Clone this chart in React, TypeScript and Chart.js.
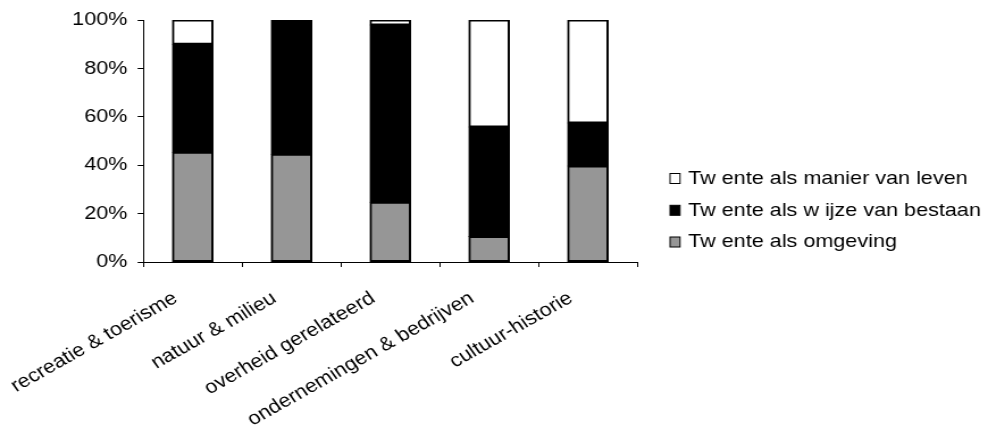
import React, { useEffect, useRef } from "react";
import { Chart, registerables } from "chart.js";

Chart.register(...registerables);

const categories = [
  "recreatie & toerisme",
  "natuur & milieu",
  "overheid gerelateerd",
  "ondernemingen & bedrijven",
  "cultuur-historie",
];
const omgeving = [45.3, 44.5, 24.7, 10.5, 39.7];
const bestaan = [44.7, 55.5, 73.2, 45.3, 17.7];
const leven = [10, 0, 2.1, 44.2, 42.6];
const seriesNames = [
  "Tw ente als omgeving",
  "Tw ente als w ijze van bestaan",
  "Tw ente als manier van leven",
];
const yTicks = [0, 20, 40, 60, 80, 100];

const CANVAS_W = 870;
const CANVAS_H = 431;
const FONT = "'Liberation Sans', Arial, sans-serif";

const legendPlugin = {
  id: "customLegend",
  afterDraw(chart: any) {
    const ctx = chart.ctx;
    const ds = chart.data.datasets;
    const rows = [178.5, 210.3, 242];
    ctx.save();
    ctx.font = `19px ${FONT}`;
    ctx.textBaseline = "middle";
    ctx.textAlign = "left";
    for (let i = 0; i < ds.length; i++) {
      const d = ds[ds.length - 1 - i];
      const y = rows[i];
      ctx.fillStyle = d.backgroundColor;
      ctx.fillRect(590, y - 5, 8.8, 10);
      ctx.strokeStyle = "#000";
      ctx.lineWidth = 1;
      ctx.strokeRect(590, y - 5, 8.8, 10);
      ctx.fillStyle = "#000";
      ctx.fillText(d.label, 606, y);
    }
    ctx.restore();
  },
};

export default function App() {
  const ref = useRef<HTMLCanvasElement | null>(null);
  useEffect(() => {
    if (!ref.current) return;
    const common = {
      borderColor: "#000",
      borderWidth: 2,
      borderSkipped: false,
      inflateAmount: 0.5,
      barPercentage: 0.41,
      categoryPercentage: 1,
    };
    const chart = new Chart(ref.current, {
      type: "bar",
      data: {
        labels: categories,
        datasets: [
          { label: seriesNames[0], data: omgeving, backgroundColor: "#969696", ...common },
          { label: seriesNames[1], data: bestaan, backgroundColor: "#000000", ...common },
          { label: seriesNames[2], data: leven, backgroundColor: "#ffffff", ...common },
        ] as any,
      },
      options: {
        responsive: false,
        animation: false,
        devicePixelRatio: 1,
        layout: { padding: { top: 20, right: CANVAS_W - 561.2, bottom: 0, left: 0 } },
        plugins: {
          legend: { display: false },
          tooltip: { enabled: false },
        },
        scales: {
          x: {
            stacked: true,
            grid: {
              display: true,
              drawOnChartArea: false,
              drawTicks: true,
              tickLength: 5,
              color: "#000",
              offset: true,
            },
            border: { display: true, color: "#000", width: 1 },
            ticks: {
              color: "#000",
              font: { family: FONT, size: 19 },
              minRotation: 32.5,
              maxRotation: 32.5,
              padding: 20,
              labelOffset: -15,
              autoSkip: false,
            },
            afterFit(scale: any) {
              scale.height = CANVAS_H - 262;
              scale.paddingLeft = 0;
              scale.paddingRight = 0;
            },
          },
          y: {
            stacked: true,
            min: 0,
            max: 100,
            grid: {
              display: true,
              drawOnChartArea: false,
              drawTicks: true,
              tickLength: 5,
              color: "#000",
            },
            border: { display: true, color: "#000", width: 1 },
            ticks: {
              color: "#000",
              font: { family: FONT, size: 19 },
              stepSize: 20,
              padding: 9,
              callback: (v: any) => (yTicks.includes(Number(v)) ? `${v}%` : ""),
            },
            afterFit(scale: any) {
              scale.width = 126.2;
              scale.paddingTop = 0;
              scale.paddingBottom = 0;
            },
          },
        },
      },
      plugins: [legendPlugin],
    });
    return () => chart.destroy();
  }, []);

  return (
    <div style={{ position: "fixed", left: 0, top: 0, width: 988, height: 431, background: "#fff" }}>
      <canvas
        ref={ref}
        width={CANVAS_W}
        height={CANVAS_H}
        style={{ display: "block", width: "988px", height: "431px" }}
      />
    </div>
  );
}
